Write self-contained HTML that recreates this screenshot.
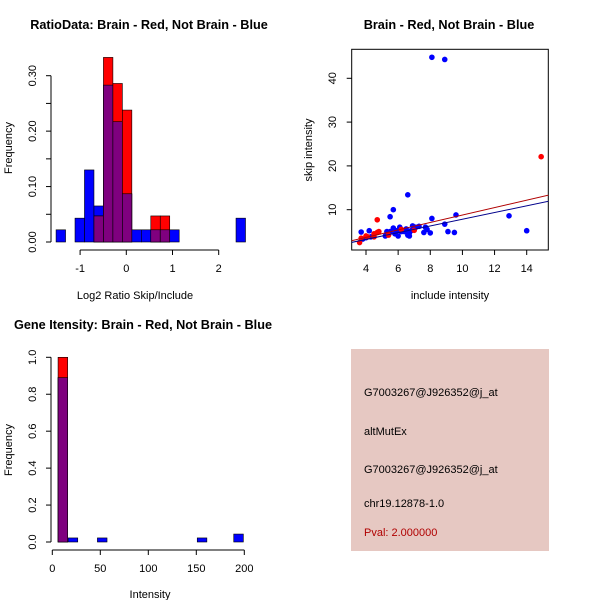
<!DOCTYPE html>
<html><head><meta charset="utf-8"><style>
body{margin:0;background:#fff}
svg{display:block;font-family:"Liberation Sans",sans-serif}
</style></head><body>
<svg id="c" width="600" height="600" viewBox="0 0 600 600">
<rect width="600" height="600" fill="#fff"/>
</svg>
<script>
// Panel 1: ratio histogram
const ratioBinStart = -1.52, ratioBinWidth = 0.205;
const ratioBlue = [0.022,0,0.043,0.13,0.065,0.283,0.217,0.087,0.022,0.022,0.022,0.022,0.022,0,0,0,0,0,0,0.043];
const ratioRed  = [0,0,0,0,0.047,0.333,0.286,0.238,0,0,0.047,0.047,0,0,0,0,0,0,0,0];
const ratioXTicks = [-1,0,1,2];
const ratioYTicks = [0,0.05,0.10,0.15,0.20,0.25,0.30];
const ratioYLabels = ["0.00","","0.10","","0.20","","0.30"];
// Panel 2: scatter
const blueX = [8.1,8.9,6.6,5.7,5.5,8.1,9.6,12.9,14,8.9,9.1,9.5,3.7,4.2,4.3,5.2,5.3,5.5,5.7,5.8,6,6.1,6.2,6.4,6.6,6.7,6.8,6.9,7.1,7.3,7.6,7.7,7.8,8,5.9,6.5,6.7,4.0,3.8];
const blueY = [44.8,44.3,13.4,10,8.4,8,8.8,8.6,5.2,6.7,5,4.8,4.9,5.2,3.8,4,5,5,5.8,4.5,4,6,5,5,4.2,4,5.2,6.3,6,6.2,4.8,6,5.5,4.7,5.2,5.6,4.7,3.6,3.3];
const redX = [14.9,4.7,3.6,3.7,4.0,4.1,4.5,4.5,4.8,4.7,7.0,6.2,5.4];
const redY = [22.1,7.7,2.5,3.5,4,3.8,4.5,3.8,5,4.8,5.3,5.5,4.2];
const redFit = [0.28,0.85];   // intercept, slope
const blueFit = [0.15,0.767];
const scXTicks = [4,6,8,10,12,14];
const scYTicks = [10,20,30,40];
// Panel 3: intensity histogram
const intStarts = [6,16.5,47,151,189];
const intWidth = 10;
const intBlue = [0.89,0.022,0.022,0.022,0.043];
const intRed  = [1.0,0,0,0,0];
const intXTicks = [0,50,100,150,200];
const intYTicks = [0,0.2,0.4,0.6,0.8,1.0];
const intYLabels = ["0.0","0.2","0.4","0.6","0.8","1.0"];

const svg = document.getElementById('c');
const NS = 'http://www.w3.org/2000/svg';
function el(tag, attrs, parent){const e=document.createElementNS(NS,tag);for(const k in attrs)e.setAttribute(k,attrs[k]);(parent||svg).appendChild(e);return e;}
function txt(s,attrs,parent){const t=el('text',attrs,parent);t.textContent=s;return t;}

// ---- Panel 1
const g1 = el('g',{});


const x1 = v => 126.3 + (v)*46.2;
const y1 = v => 242 - v*(242-75.7)/0.30;
function histLayer(g, xs, ys, starts, w, blue, red){
  for(let i=0;i<blue.length;i++){
    const a=starts(i), b=a+w, bv=blue[i], rv=red[i];
    if(bv>0){const r=el('rect',{x:xs(a),y:ys(bv),width:xs(b)-xs(a),height:ys(0)-ys(bv),fill:'#0000ff',stroke:'#000','stroke-width':0.6},g);
      
      }
    if(rv>0){const r=el('rect',{x:xs(a),y:ys(rv),width:xs(b)-xs(a),height:ys(0)-ys(rv),fill:'#ff0000',stroke:'#000','stroke-width':0.6},g);
      
      }
    const m=Math.min(bv,rv);
    if(m>0){const r=el('rect',{x:xs(a),y:ys(m),width:xs(b)-xs(a),height:ys(0)-ys(m),fill:'#7f007f',stroke:'#000','stroke-width':0.6},g);
      
      }
  }
}
histLayer(g1,x1,y1,i=>ratioBinStart+i*ratioBinWidth,ratioBinWidth,ratioBlue,ratioRed);
el('line',{x1:x1(-1),x2:x1(2),y1:250,y2:250,stroke:'#000'},g1);
ratioXTicks.forEach(t=>{el('line',{x1:x1(t),x2:x1(t),y1:250,y2:255,stroke:'#000'},g1);
  const l=txt(String(t),{x:x1(t),y:272,'text-anchor':'middle','font-size':11},g1);
  
  });
el('line',{x1:51,x2:51,y1:y1(0),y2:y1(0.30),stroke:'#000'},g1);
ratioYTicks.forEach((t,i)=>{el('line',{x1:46,x2:51,y1:y1(t),y2:y1(t),stroke:'#000'},g1);
  if(ratioYLabels[i]){const l=txt(ratioYLabels[i],{x:0,y:0,'text-anchor':'middle','font-size':11,transform:`translate(36,${y1(t)}) rotate(-90)`},g1);
  
  }});
const t1=txt('RatioData: Brain - Red, Not Brain - Blue',{x:149,y:29,'text-anchor':'middle','font-size':12.7,'font-weight':'bold'},g1);


const xl1=txt('Log2 Ratio Skip/Include',{x:135,y:299,'text-anchor':'middle','font-size':11},g1);


const yl1=txt('Frequency',{x:0,y:0,'text-anchor':'middle','font-size':11,transform:'translate(12,148) rotate(-90)'},g1);



// ---- Panel 2
const g2 = el('g',{});


const x2 = v => 366 + (v-4)*16.07;
const y2 = v => 209.7 - (v-10)*4.38;
el('rect',{x:351.7,y:49.3,width:196.6,height:200.7,fill:'none',stroke:'#000'},g2);
const cp=el('clipPath',{id:'cp'},g2); el('rect',{x:351.7,y:49.3,width:196.6,height:200.7},cp);
blueX.forEach((v,i)=>{const c=el('circle',{cx:x2(v),cy:y2(blueY[i]),r:2.8,fill:'#0000ff'},g2);
  
  });
redX.forEach((v,i)=>{const c=el('circle',{cx:x2(v),cy:y2(redY[i]),r:2.8,fill:'#ff0000'},g2);
  
  });
[[blueFit,'#00008b','blue-fit-line'],[redFit,'#b00000','red-fit-line']].forEach(([f,col,nm])=>{
  const L=el('line',{x1:x2(3),y1:y2(f[0]+f[1]*3),x2:x2(15.4),y2:y2(f[0]+f[1]*15.4),stroke:col,'stroke-width':1,'clip-path':'url(#cp)'},g2);
  
  });
scXTicks.forEach(t=>{el('line',{x1:x2(t),x2:x2(t),y1:250,y2:255,stroke:'#000'},g2);
  const l=txt(String(t),{x:x2(t),y:272,'text-anchor':'middle','font-size':11},g2);
  
  });
scYTicks.forEach(t=>{el('line',{x1:346.7,x2:351.7,y1:y2(t),y2:y2(t),stroke:'#000'},g2);
  const l=txt(String(t),{x:0,y:0,'text-anchor':'middle','font-size':11,transform:`translate(336,${y2(t)}) rotate(-90)`},g2);
  
  });
const t2=txt('Brain - Red, Not Brain - Blue',{x:449,y:29,'text-anchor':'middle','font-size':12.7,'font-weight':'bold'},g2);


const xl2=txt('include intensity',{x:450,y:299,'text-anchor':'middle','font-size':11},g2);


const yl2=txt('skip intensity',{x:0,y:0,'text-anchor':'middle','font-size':11,transform:'translate(312,150) rotate(-90)'},g2);



// ---- Panel 3
const g3 = el('g',{});


const x3 = v => 52.3 + v*0.96;
const y3 = v => 542 - v*(542-357.3);
histLayer(g3,x3,y3,i=>intStarts[i],intWidth,intBlue,intRed);
el('line',{x1:x3(0),x2:x3(200),y1:550,y2:550,stroke:'#000'},g3);
intXTicks.forEach(t=>{el('line',{x1:x3(t),x2:x3(t),y1:550,y2:555,stroke:'#000'},g3);
  const l=txt(String(t),{x:x3(t),y:572,'text-anchor':'middle','font-size':11},g3);
  
  });
el('line',{x1:51,x2:51,y1:y3(0),y2:y3(1),stroke:'#000'},g3);
intYTicks.forEach((t,i)=>{el('line',{x1:46,x2:51,y1:y3(t),y2:y3(t),stroke:'#000'},g3);
  const l=txt(intYLabels[i],{x:0,y:0,'text-anchor':'middle','font-size':11,transform:`translate(36,${y3(t)}) rotate(-90)`},g3);
  
  });
const t3=txt('Gene Itensity: Brain - Red, Not Brain - Blue',{x:143,y:329,'text-anchor':'middle','font-size':12.7,'font-weight':'bold'},g3);


const xl3=txt('Intensity',{x:150,y:598,'text-anchor':'middle','font-size':11},g3);


const yl3=txt('Frequency',{x:0,y:0,'text-anchor':'middle','font-size':11,transform:'translate(12,450) rotate(-90)'},g3);


</script>
<svg style="position:absolute;left:0;top:0" width="600" height="600">
<g font-family="Liberation Sans, sans-serif" font-size="11">
<rect x="351" y="349" width="198" height="202" fill="#e6c8c2"/>
<text x="364" y="396" fill="#000">G7003267@J926352@j_at</text>
<text x="364" y="435" fill="#000">altMutEx</text>
<text x="364" y="473" fill="#000">G7003267@J926352@j_at</text>
<text x="364" y="507" fill="#000">chr19.12878-1.0</text>
<text x="364" y="536" fill="#b00000">Pval: 2.000000</text>
</g>
</svg>
</body></html>
